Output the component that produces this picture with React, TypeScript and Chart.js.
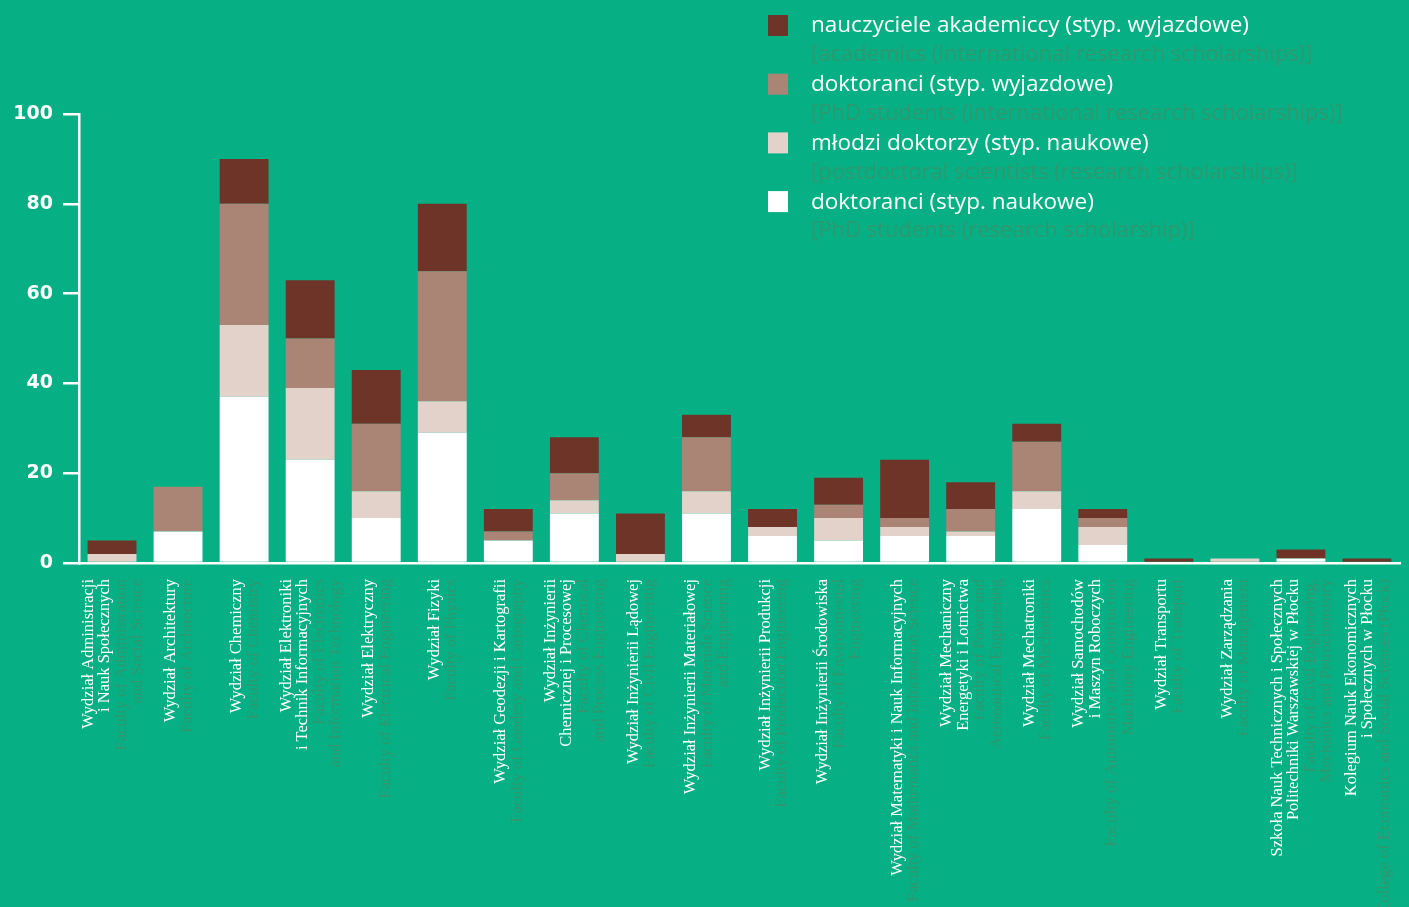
import React, { useEffect, useRef } from "react";
import { Chart, registerables } from "chart.js";

Chart.register(...registerables);

const BG = "#06B084";
const SUB = "#2E9870";

const labelsPL: string[][] = [
  ["Wydział Administracji", "i Nauk Społecznych"],
  ["Wydział Architektury"],
  ["Wydział Chemiczny"],
  ["Wydział Elektroniki", "i Technik Informacyjnych"],
  ["Wydział Elektryczny"],
  ["Wydział Fizyki"],
  ["Wydział Geodezji i Kartografii"],
  ["Wydział Inżynierii", "Chemicznej i Procesowej"],
  ["Wydział Inżynierii Lądowej"],
  ["Wydział Inżynierii Materiałowej"],
  ["Wydział Inżynierii Produkcji"],
  ["Wydział Inżynierii Środowiska"],
  ["Wydział Matematyki i Nauk Informacyjnych"],
  ["Wydział Mechaniczny", "Energetyki i Lotnictwa"],
  ["Wydział Mechatroniki"],
  ["Wydział Samochodów", "i Maszyn Roboczych"],
  ["Wydział Transportu"],
  ["Wydział Zarządzania"],
  ["Szkoła Nauk Technicznych i Społecznych", "Politechniki Warszawskiej w Płocku"],
  ["Kolegium Nauk Ekonomicznych", "i Społecznych w Płocku"],
];

const labelsEN: string[][] = [
  ["Faculty of Administration", "and Social Science"],
  ["Faculty of Architecture"],
  ["Faculty of Chemistry"],
  ["Faculty of Electronics", "and Information Technology"],
  ["Faculty of Electrical Engineering"],
  ["Faculty of Physics"],
  ["Faculty of Geodesy and Cartography"],
  ["Faculty of Chemical", "and Process Engineering"],
  ["Faculty of Civil Engineering"],
  ["Faculty of Materials Science", "and Engineering"],
  ["Faculty of Production Engineering"],
  ["Faculty of Environmental", "Engineering"],
  ["Faculty of Mathematics and Information Science"],
  ["Faculty of Power and", "Aeronautical Engineering"],
  ["Faculty of Mechatronics"],
  ["Faculty of Automotive and Construction", "Machinery Engineering"],
  ["Faculty of Transport"],
  ["Faculty of Management"],
  ["Faculty of Civil Engineering,", "Mechanics and Petrochemistry"],
  ["College of Economics and Social Sciences (Płock)"],
];

// series values (stack order bottom -> top)
const phdResearch = [0, 7, 37, 23, 10, 29, 5, 11, 0, 11, 6, 5, 6, 6, 12, 4, 0, 0, 1, 0];
const postdocResearch = [2, 0, 16, 16, 6, 7, 0, 3, 2, 5, 2, 5, 2, 1, 4, 4, 0, 1, 0, 0];
const phdInternational = [0, 10, 27, 11, 15, 29, 2, 6, 0, 12, 0, 3, 2, 5, 11, 2, 0, 0, 0, 0];
const academicsInternational = [3, 0, 10, 13, 12, 15, 5, 8, 9, 5, 4, 6, 13, 6, 4, 2, 1, 0, 2, 1];

const yTicks = [0, 20, 40, 60, 80, 100];

const legendPL = [
  "nauczyciele akademiccy (styp. wyjazdowe)",
  "doktoranci (styp. wyjazdowe)",
  "młodzi doktorzy (styp. naukowe)",
  "doktoranci (styp. naukowe)",
];
const legendEN = [
  "[academics (international research scholarships)]",
  "[PhD students (international research scholarships)]",
  "[postdoctoral scientists (research scholarships)]",
  "[PhD students (research scholarship)]",
];
const legendColors = ["#6E3428", "#AA8576", "#E2D2CA", "#FFFFFF"];

export default function App() {
  const ref = useRef<HTMLCanvasElement | null>(null);

  useEffect(() => {
    document.body.style.margin = "0";
    document.body.style.background = BG;
    const canvas = ref.current;
    if (!canvas) return;

    const customDraw = {
      id: "customDraw",
      afterDraw(chart: any) {
        const ctx = chart.ctx;
        const xs = chart.scales.x;
        // x labels
        ctx.save();
        const lh = 16.5;
        for (let i = 0; i < labelsPL.length; i++) {
          const lines = [
            ...labelsPL[i].map((t) => ({ t, c: "#FFFFFF" })),
            ...labelsEN[i].map((t) => ({ t, c: SUB })),
          ];
          const cx = xs.getPixelForValue(i);
          ctx.save();
          ctx.translate(cx, 579);
          ctx.rotate(-Math.PI / 2);
          ctx.textAlign = "right";
          ctx.textBaseline = "middle";
          ctx.font = "16.5px 'Liberation Serif'";
          const n = lines.length;
          lines.forEach((l, j) => {
            ctx.fillStyle = l.c;
            ctx.fillText(l.t, 0, (j - (n - 1) / 2) * lh + 1);
          });
          ctx.restore();
        }
        // legend
        ctx.textAlign = "left";
        ctx.textBaseline = "middle";
        for (let k = 0; k < 4; k++) {
          const y = 25 + k * 58.7;
          ctx.fillStyle = legendColors[k];
          ctx.fillRect(768, y - 10, 20, 21);
          ctx.font = "22.5px 'Open Sans'";
          ctx.fillStyle = "#FFFFFF";
          ctx.fillText(legendPL[k], 811, y + 1);
          ctx.font = "22px 'Open Sans'";
          ctx.fillStyle = SUB;
          ctx.fillText(legendEN[k], 811, y + 30);
        }
        ctx.restore();
      },
    };

    const chart = new Chart(canvas, {
      type: "bar",
      data: {
        labels: labelsPL.map((l) => l.join(" ")),
        datasets: [
          { label: "doktoranci (styp. naukowe)", data: phdResearch, backgroundColor: "#FFFFFF" },
          { label: "młodzi doktorzy (styp. naukowe)", data: postdocResearch, backgroundColor: "#E2D2CA" },
          { label: "doktoranci (styp. wyjazdowe)", data: phdInternational, backgroundColor: "#AA8576" },
          { label: "nauczyciele akademiccy (styp. wyjazdowe)", data: academicsInternational, backgroundColor: "#6E3428" },
        ],
      },
      options: {
        responsive: false,
        animation: false,
        maintainAspectRatio: false,
        layout: { padding: { top: 114, right: 9, left: 0, bottom: 0 } },
        plugins: { legend: { display: false }, tooltip: { enabled: false } },
        datasets: { bar: { categoryPercentage: 0.74, barPercentage: 1.0 } },
        scales: {
          x: {
            stacked: true,
            grid: { display: false, drawTicks: false },
            border: { display: true, color: "#FFFFFF", width: 2.5 },
            ticks: { display: false },
            afterFit: (s: any) => {
              s.height = 344;
            },
          },
          y: {
            stacked: true,
            min: 0,
            max: 100,
            afterBuildTicks: (s: any) => {
              s.ticks = yTicks.map((v) => ({ value: v }));
            },
            grid: {
              drawOnChartArea: false,
              drawTicks: true,
              tickLength: 16,
              color: "#FFFFFF",
              lineWidth: 2.5,
            },
            border: { display: true, color: "#FFFFFF", width: 2.5 },
            ticks: {
              color: "#FFFFFF",
              padding: 10,
              font: { family: "'DejaVu Sans'", size: 19, weight: "bold" },
            },
            afterFit: (s: any) => {
              s.width = 79;
            },
          },
        },
      },
      plugins: [customDraw],
    } as any);

    return () => chart.destroy();
  }, []);

  return (
    <div style={{ position: "absolute", left: 0, top: 0, width: 1409, height: 907, background: BG }}>
      <canvas ref={ref} width={1409} height={907} style={{ display: "block" }} />
    </div>
  );
}
